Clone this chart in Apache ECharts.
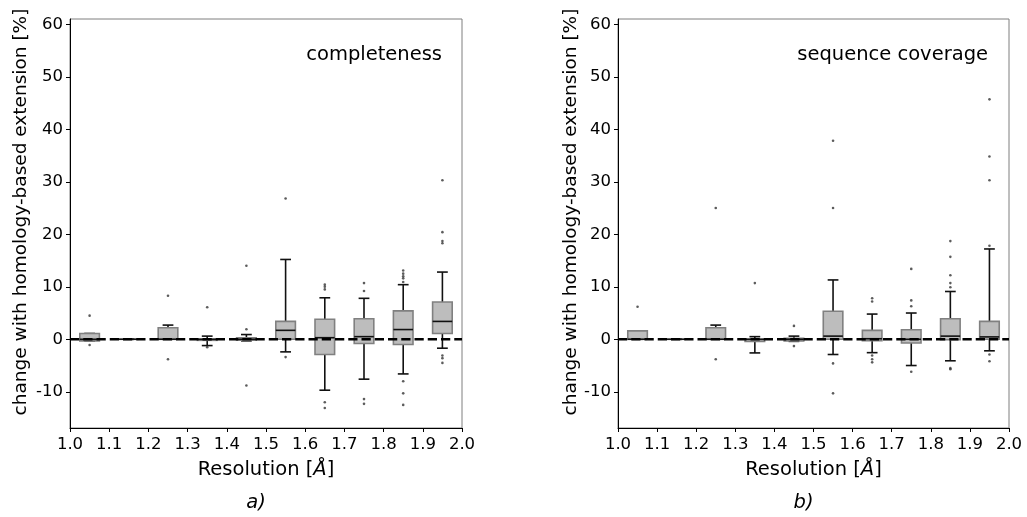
<!DOCTYPE html>
<html>
<head>
<meta charset="utf-8">
<script src="https://cdn.jsdelivr.net/npm/echarts@6/dist/echarts.min.js"></script>
<style>html,body{margin:0;padding:0;background:#fff}#c{width:1027px;height:517px}</style>
</head>
<body>
<div id="c"></div>
<script>
// ---- data ----
const positions = [1.05, 1.15, 1.25, 1.35, 1.45, 1.55, 1.65, 1.75, 1.85, 1.95];
const xTicks = [1.0, 1.1, 1.2, 1.3, 1.4, 1.5, 1.6, 1.7, 1.8, 1.9, 2.0];
const yTicks = [-10, 0, 10, 20, 30, 40, 50, 60];

// [lowWhisker, q1, median, q3, highWhisker]
const completenessBoxes = [
  [-0.3, -0.3, 0.0, 1.1, 1.1],
  [0, 0, 0, 0, 0],
  [0.0, 0.0, 0.0, 2.2, 2.7],
  [-1.2, -0.2, 0.0, 0.0, 0.6],
  [-0.3, -0.2, 0.0, 0.3, 0.9],
  [-2.4, 0.0, 1.7, 3.4, 15.2],
  [-9.7, -2.9, 0.3, 3.8, 7.9],
  [-7.6, -0.8, 0.5, 3.9, 7.8],
  [-6.6, -1.0, 1.85, 5.4, 10.4],
  [-1.7, 1.1, 3.4, 7.1, 12.8]
];
const completenessOutliers = [
  [1.05, 4.5], [1.05, -1.1],
  [1.25, 8.3], [1.25, -3.8],
  [1.35, 6.1], [1.35, -1.5],
  [1.45, 14.0], [1.45, 1.9], [1.45, -8.8],
  [1.55, 26.8], [1.55, -3.4],
  [1.65, 10.4], [1.65, 10.0], [1.65, 9.5], [1.65, -12.0], [1.65, -13.1],
  [1.75, 10.7], [1.75, 9.2], [1.75, -11.4], [1.75, -12.3],
  [1.85, 13.1], [1.85, 12.5], [1.85, 12.0], [1.85, 11.6], [1.85, 10.9], [1.85, -8.0], [1.85, -10.3], [1.85, -12.5],
  [1.95, 30.3], [1.95, 20.4], [1.95, 18.7], [1.95, 18.3], [1.95, -3.1], [1.95, -3.6], [1.95, -4.5]
];

const coverageBoxes = [
  [0.0, 0.0, 0.0, 1.6, 1.6],
  [0, 0, 0, 0, 0],
  [0.0, 0.0, 0.0, 2.2, 2.7],
  [-2.6, -0.4, 0.0, 0.0, 0.5],
  [-0.4, -0.3, 0.0, 0.2, 0.6],
  [-2.9, 0.0, 0.6, 5.35, 11.3],
  [-2.55, -0.25, 0.1, 1.7, 4.8],
  [-5.0, -0.7, 0.0, 1.8, 5.0],
  [-4.1, -0.1, 0.6, 3.9, 9.1],
  [-2.2, 0.0, 0.45, 3.4, 17.2]
];
const coverageOutliers = [
  [1.05, 6.2],
  [1.25, 25.0], [1.25, -3.8],
  [1.35, 10.7],
  [1.45, 2.55], [1.45, -1.3],
  [1.55, 37.8], [1.55, 25.0], [1.55, -4.6], [1.55, -10.3],
  [1.65, 7.8], [1.65, 7.2], [1.65, -3.1], [1.65, -3.8], [1.65, -4.4],
  [1.75, 13.4], [1.75, 7.4], [1.75, 6.3], [1.75, -6.2],
  [1.85, 18.7], [1.85, 15.7], [1.85, 12.2], [1.85, 10.7], [1.85, 9.9], [1.85, -5.5], [1.85, -5.7],
  [1.95, 45.7], [1.95, 34.8], [1.95, 30.3], [1.95, 17.8], [1.95, -2.9], [1.95, -4.2]
];

const panelLabels = ['completeness', 'sequence coverage'];
const yTitle = 'change with homology-based extension [%]';

// ---- chart ----
const FONT = 'DejaVu Sans';
const chart = echarts.init(document.getElementById('c'), null, {renderer: 'canvas'});

function boxData(boxes) {
  return boxes.map((b, i) => [positions[i]].concat(b));
}

function renderBox(params, api) {
  const x = api.value(0);
  const lo = api.value(1), q1 = api.value(2), med = api.value(3), q3 = api.value(4), hi = api.value(5);
  const w = api.size([0.05, 0])[0];
  const cw = w * 0.55;
  const pLo = api.coord([x, lo]), pQ1 = api.coord([x, q1]), pMed = api.coord([x, med]);
  const pQ3 = api.coord([x, q3]), pHi = api.coord([x, hi]);
  const cx = pMed[0];
  const ws = {stroke: '#111', lineWidth: 1.6};
  return {
    type: 'group',
    children: [
      {type: 'line', shape: {x1: cx, y1: pHi[1], x2: cx, y2: pQ3[1]}, style: ws},
      {type: 'line', shape: {x1: cx, y1: pQ1[1], x2: cx, y2: pLo[1]}, style: ws},
      {type: 'line', shape: {x1: cx - cw / 2, y1: pHi[1], x2: cx + cw / 2, y2: pHi[1]}, style: ws},
      {type: 'line', shape: {x1: cx - cw / 2, y1: pLo[1], x2: cx + cw / 2, y2: pLo[1]}, style: ws},
      {type: 'rect', shape: {x: cx - w / 2, y: pQ3[1], width: w, height: pQ1[1] - pQ3[1]},
       style: {fill: '#bdbdbd', stroke: '#808080', lineWidth: 1.6}},
      {type: 'line', shape: {x1: cx - w / 2, y1: pMed[1], x2: cx + w / 2, y2: pMed[1]}, style: ws}
    ]
  };
}

const grids = [
  {left: 70, width: 392, top: 19, bottom: 89},
  {left: 618, width: 391, top: 19, bottom: 89}
];

const xAxes = [], yAxes = [], series = [];
const allBoxes = [completenessBoxes, coverageBoxes];
const allOut = [completenessOutliers, coverageOutliers];
grids.forEach((g, i) => {
  g.show = true; g.borderColor = '#7f7f7f'; g.borderWidth = 1; g.backgroundColor = 'transparent';
  xAxes.push({
    type: 'value', gridIndex: i, min: 1.0, max: 2.0,
    axisLine: {show: true, onZero: false, lineStyle: {color: '#000', width: 1}},
    axisTick: {show: true, length: 4, customValues: xTicks, lineStyle: {color: '#000'}},
    axisLabel: {customValues: xTicks, formatter: v => v.toFixed(1), color: '#000', fontFamily: FONT, fontSize: 16.5, margin: 8},
    splitLine: {show: false}
  });
  yAxes.push({
    type: 'value', gridIndex: i, min: -16.9, max: 61,
    axisLine: {show: true, onZero: false, lineStyle: {color: '#000', width: 1}},
    axisTick: {show: true, length: 4, customValues: yTicks, lineStyle: {color: '#000'}},
    axisLabel: {customValues: yTicks, formatter: v => String(v), color: '#000', fontFamily: FONT, fontSize: 16.5, margin: 7},
    splitLine: {show: false}
  });
  series.push({
    type: 'custom', xAxisIndex: i, yAxisIndex: i, renderItem: renderBox,
    data: boxData(allBoxes[i]), encode: {x: 0, y: [1, 2, 3, 4, 5]}, z: 2, silent: true, clip: false
  });
  series.push({
    type: 'scatter', xAxisIndex: i, yAxisIndex: i, data: allOut[i], symbol: 'circle', symbolSize: 2.6,
    itemStyle: {color: '#333'}, z: 3, silent: true
  });
  series.push({
    type: 'line', xAxisIndex: i, yAxisIndex: i, data: [[1.0, 0], [2.0, 0]], symbol: 'none',
    lineStyle: {color: '#000', width: 2.5, type: [9.25, 4]}, z: 4, silent: true
  });
});

const graphics = [];
const yTitleX = [21, 571];
const centers = [266, 813.5];
const labelRight = [442, 988];
const tags = ['a)', 'b)'];
for (let i = 0; i < 2; i++) {
  graphics.push({type: 'text', x: yTitleX[i], y: 212, rotation: Math.PI / 2,
    style: {text: yTitle, fontFamily: FONT, fontSize: 18.5, fill: '#000', align: 'center', verticalAlign: 'middle'}});
  graphics.push({type: 'text', x: centers[i], y: 470,
    style: {text: 'Resolution [{i|Å}]', rich: {i: {fontStyle: 'italic', fontFamily: FONT, fontSize: 19.5}},
      fontFamily: FONT, fontSize: 19.5, fill: '#000', align: 'center', verticalAlign: 'middle'}});
  graphics.push({type: 'text', x: centers[i] - 10, y: 503,
    style: {text: tags[i], fontFamily: FONT, fontStyle: 'italic', fontSize: 19.5, fill: '#000', align: 'center', verticalAlign: 'middle'}});
  graphics.push({type: 'text', x: labelRight[i], y: 55,
    style: {text: panelLabels[i], fontFamily: FONT, fontSize: 19.5, fill: '#000', align: 'right', verticalAlign: 'middle'}});
}

chart.setOption({
  animation: false,
  backgroundColor: '#fff',
  grid: grids,
  xAxis: xAxes,
  yAxis: yAxes,
  series: series,
  graphic: graphics
});
</script>
</body>
</html>
